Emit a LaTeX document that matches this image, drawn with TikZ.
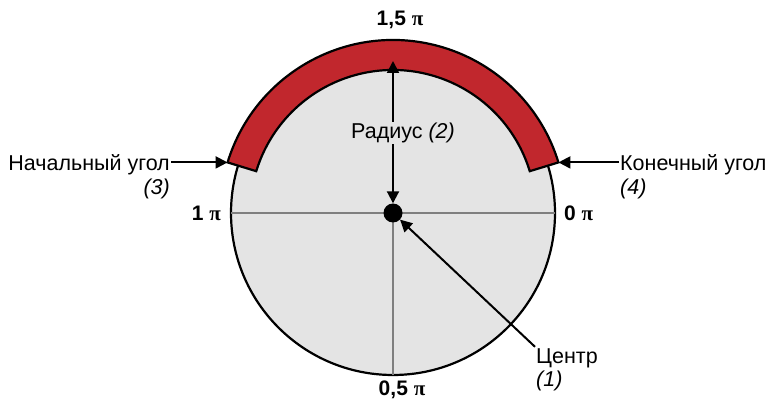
\documentclass[tikz,border=0pt]{standalone}
\usepackage{fontspec}
\setmainfont{Liberation Sans}
\newfontfamily\pifont{Liberation Serif}
\definecolor{Bandcol}{HTML}{C1272D}
\definecolor{Diskcol}{HTML}{E4E4E4}
\definecolor{Axiscol}{HTML}{7F7F7F}
\usetikzlibrary{arrows.meta, positioning}
\tikzset{
    >={Triangle[length=12pt, width=12pt]},
    lbl/.style={font=\fontsize{21.5}{24}\selectfont, inner sep=1pt, text height=15.5pt, text depth=4.5pt},
    ticklbl/.style={font=\fontsize{21}{24}\selectfont\bfseries, inner sep=1pt},
    pointer/.style={->, line width=2pt}
}

\begin{document}
\begin{tikzpicture}[x=1pt, y=1pt]
    \useasboundingbox (0,0) rectangle (769,402);

    % Coordinates
    \coordinate (C) at (393,189);
    \coordinate (bandL) at ([shift={(163:173pt)}]C);
    \coordinate (bandR) at ([shift={(17:173pt)}]C);
    \coordinate (radtop) at (393,341);

    % Disk
    \filldraw[fill=Diskcol, draw=black, line width=2.2pt] (C) circle (162pt);

    % Axes
    \draw[Axiscol, line width=2pt] ([xshift=-162pt]C) -- ([xshift=162pt]C);
    \draw[Axiscol, line width=2pt] (C) -- ([yshift=-162pt]C);

    % Arc band
    \filldraw[fill=Bandcol, draw=black, line width=2.2pt]
        ([shift={(17:143pt)}]C) arc[start angle=17, end angle=163, radius=143pt]
        -- (bandL) arc[start angle=163, end angle=17, radius=173pt] -- cycle;

    % Centre point
    \node[circle, fill=black, minimum size=19pt, inner sep=0pt] (dot) at (C) {};

    % Angle values
    \node[ticklbl] (top) at (400,382) {1,5 {\pifont π}};
    \node[ticklbl] (bottom) at (402,12) {0,5 {\pifont π}};
    \node[ticklbl, anchor=east] (left) at (222,189) {1 {\pifont π}};
    \node[ticklbl, anchor=west] (right) at (563,189) {0 {\pifont π}};

    % Radius
    \node[lbl] (rad) at (403,269) {Радиус \textit{(2)}};
    \draw[pointer] (rad.north -| C) -- (radtop);
    \draw[pointer] (rad.south -| C) -- (dot);

    % Start angle
    \node[lbl, anchor=east] (start) at (171,237) {Начальный угол};
    \node[lbl, anchor=north east] (startnum) at ([yshift=-2pt]start.south east) {\textit{(3)}};
    \draw[pointer] (start.east |- bandL) -- (bandL);

    % End angle
    \node[lbl, anchor=west] (end) at (619,237) {Конечный угол};
    \node[lbl, anchor=north west] (endnum) at ([yshift=-2pt]end.south west) {\textit{(4)}};
    \draw[pointer] (end.west |- bandR) -- (bandR);

    % Centre
    \node[lbl, anchor=west] (centre) at (535,44) {Центр};
    \node[lbl, anchor=north west] (centrenum) at ([yshift=-1pt]centre.south west) {\textit{(1)}};
    \draw[pointer] (centre.north west) -- (dot);
\end{tikzpicture}
\end{document}
